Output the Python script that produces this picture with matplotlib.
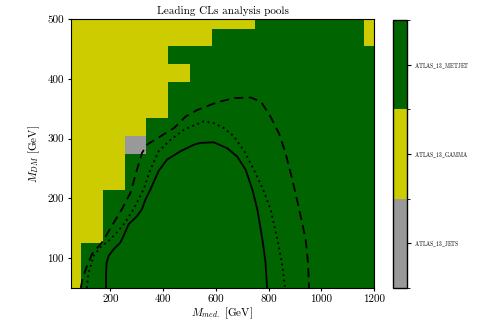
import matplotlib
matplotlib.use("Agg")
import matplotlib.pyplot as plt
from matplotlib.colors import ListedColormap, BoundaryNorm
import numpy as np

plt.rcParams['font.family'] = 'serif'
plt.rcParams['font.serif'] = ['cmr10', 'DejaVu Serif']
plt.rcParams['mathtext.fontset'] = 'cm'
plt.rcParams['axes.unicode_minus'] = False

# ---- data ----
pool_names = ["ATLAS_13_JETS", "ATLAS_13_GAMMA", "ATLAS_13_METJET"]
pool_colors = ["#999999", "#cccc00", "#006400"]

x_edges = [50, 89, 171.5, 254, 336.5, 419, 501.5, 584, 666.5, 749, 831.5, 914, 996.5, 1079, 1161.5, 1200]
y_edges = [50, 64.5, 94.5, 124.5, 154.5, 184.5, 214.5, 244.5, 274.5, 304.5, 334.5,
           364.5, 394.5, 424.5, 454.5, 484.5, 500]

# leading pool per cell (0=JETS, 1=GAMMA, 2=METJET), rows bottom -> top
leading_pool = [
    [1, 2, 2, 2, 2, 2, 2, 2, 2, 2, 2, 2, 2, 2, 2],
    [1, 2, 2, 2, 2, 2, 2, 2, 2, 2, 2, 2, 2, 2, 2],
    [1, 2, 2, 2, 2, 2, 2, 2, 2, 2, 2, 2, 2, 2, 2],
    [1, 1, 2, 2, 2, 2, 2, 2, 2, 2, 2, 2, 2, 2, 2],
    [1, 1, 2, 2, 2, 2, 2, 2, 2, 2, 2, 2, 2, 2, 2],
    [1, 1, 2, 2, 2, 2, 2, 2, 2, 2, 2, 2, 2, 2, 2],
    [1, 1, 1, 2, 2, 2, 2, 2, 2, 2, 2, 2, 2, 2, 2],
    [1, 1, 1, 2, 2, 2, 2, 2, 2, 2, 2, 2, 2, 2, 2],
    [1, 1, 1, 0, 2, 2, 2, 2, 2, 2, 2, 2, 2, 2, 2],
    [1, 1, 1, 1, 2, 2, 2, 2, 2, 2, 2, 2, 2, 2, 2],
    [1, 1, 1, 1, 1, 2, 2, 2, 2, 2, 2, 2, 2, 2, 2],
    [1, 1, 1, 1, 1, 2, 2, 2, 2, 2, 2, 2, 2, 2, 2],
    [1, 1, 1, 1, 1, 1, 2, 2, 2, 2, 2, 2, 2, 2, 2],
    [1, 1, 1, 1, 1, 2, 2, 2, 2, 2, 2, 2, 2, 2, 2],
    [1, 1, 1, 1, 1, 1, 1, 2, 2, 2, 2, 2, 2, 2, 1],
    [1, 1, 1, 1, 1, 1, 1, 1, 1, 2, 2, 2, 2, 2, 1],
]

# exclusion contours
solid_x = [184, 184, 186, 194, 213, 238, 250, 270, 301, 320, 333, 352, 383, 415, 466, 517, 542,
           592, 643, 681, 713, 738, 757, 776, 788, 794]
solid_y = [50, 75, 92, 104, 115, 126, 137, 157, 170, 182, 198, 215, 246, 265, 279, 290, 293,
           294, 284, 270, 248, 215, 182, 132, 93, 50]

dotted_x = [111, 118, 137, 162, 194, 225, 257, 288, 307, 326, 352, 383, 428, 479, 537, 554,
            592, 630, 668, 708, 744, 778, 807, 833, 852, 862]
dotted_y = [50, 76, 104, 118, 129, 143, 160, 182, 198, 215, 248, 279, 298, 315, 326, 329,
            326, 318, 304, 279, 248, 216, 182, 132, 87, 50]

dashed_x = [88, 95, 112, 131, 168, 206, 244, 276, 282, 301, 320, 339, 390, 442, 485, 529,
            605, 668, 732, 771, 807, 839, 864, 883, 898, 921, 940, 949, 953]
dashed_y = [50, 66, 87, 107, 126, 154, 182, 209, 218, 248, 276, 290, 304, 318, 337, 348,
            361, 368, 369, 362, 337, 309, 276, 243, 216, 171, 132, 93, 50]

# ---- plot ----
fig = plt.figure(figsize=(4.81, 3.25), dpi=100)
ax = fig.add_axes([0.147, 0.114, 0.631, 0.8266])
cax = fig.add_axes([0.818, 0.114, 0.028, 0.824])

cmap = ListedColormap(pool_colors)
norm = BoundaryNorm([-0.5, 0.5, 1.5, 2.5], cmap.N)
mesh = ax.pcolormesh(x_edges, y_edges, np.array(leading_pool), cmap=cmap, norm=norm)

ax.plot(solid_x, solid_y, color='black', lw=1.3, ls='-')
ax.plot(dotted_x, dotted_y, color='black', lw=1.3, ls=(0, (1, 2)))
ax.plot(dashed_x, dashed_y, color='black', lw=1.3, ls=(0, (5, 3)))

ax.set_xlim(50, 1200)
ax.set_ylim(50, 500)
ax.set_xticks([200, 400, 600, 800, 1000, 1200])
ax.set_yticks([100, 200, 300, 400, 500])
ax.tick_params(labelsize=8, length=2.5, pad=2.5)
ax.set_xlabel(r"$M_{med.}$ [GeV]", fontsize=8, labelpad=1)
ax.set_ylabel(r"$M_{DM}$ [GeV]", fontsize=8, labelpad=4)
ax.set_title("Leading CLs analysis pools", fontsize=8, pad=4)

cb = fig.colorbar(mesh, cax=cax, ticks=[0, 1, 2])
cb.ax.set_yticklabels([r"$\mathrm{" + n.replace("_", r"\_") + "}$" for n in pool_names],
                      fontsize=4)
cb.ax.tick_params(length=3, width=0.8, pad=2)
cb.outline.set_linewidth(1.0)

fig.savefig("out.png", dpi=100)
